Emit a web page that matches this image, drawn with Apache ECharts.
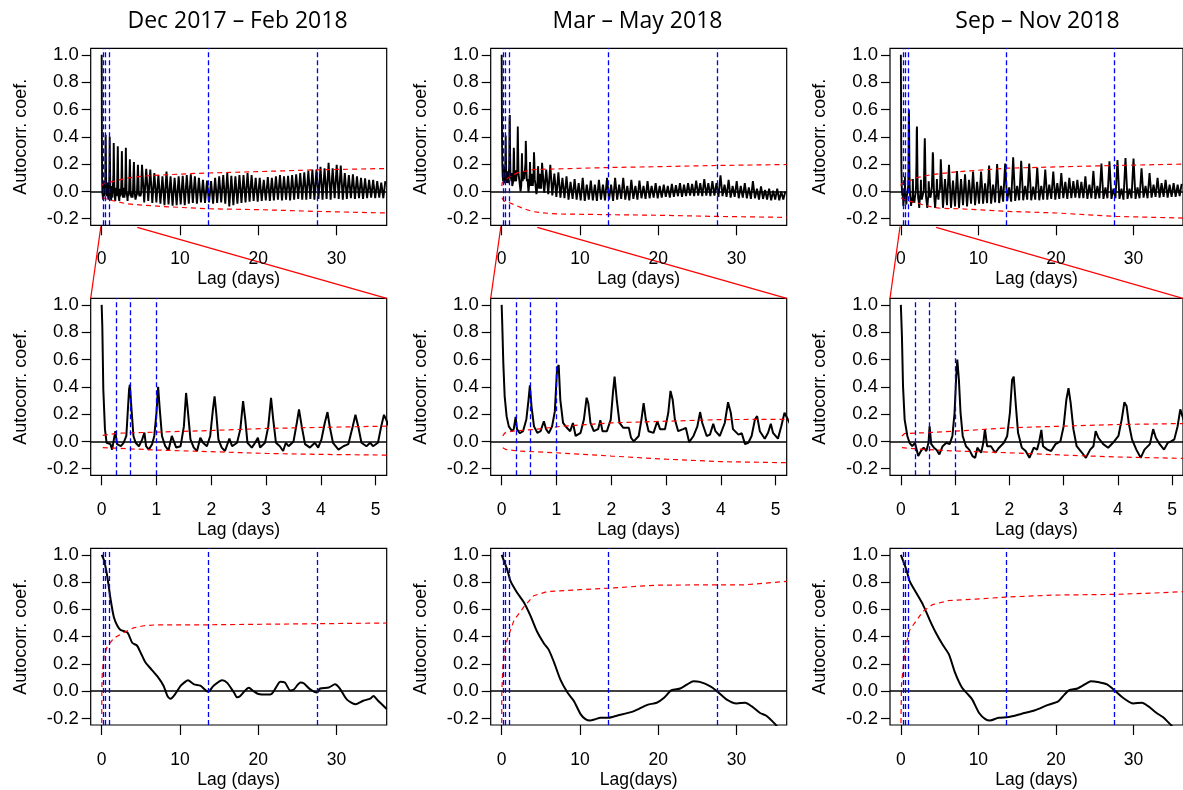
<!DOCTYPE html>
<html lang="en">
<head>
<meta charset="UTF-8">
<title>Autocorrelation</title>
<style>
    html, body { margin: 0; padding: 0; background: #fff; }
    #main { width: 1183px; height: 790px; }
</style>
</head>
<body>
<div id="main"></div>
<script src="https://cdn.jsdelivr.net/npm/echarts@6.0.0/dist/echarts.min.js"></script>
<script>
// panel titles and axis names
const titles = ['Dec 2017 – Feb 2018', 'Mar – May 2018', 'Sep – Nov 2018'];
const bottomNames = ['Lag (days)', 'Lag(days)', 'Lag (days)'];
const yTicks = [-0.2, 0, 0.2, 0.4, 0.6, 0.8, 1.0];
const longTicks = [0, 10, 20, 30];
const shortTicks = [0, 1, 2, 3, 4, 5];
// reference periods (days)
const tideLines = [0.2588, 0.5175, 1, 13.66, 27.55];
const tideLinesShort = [0.2588, 0.5175, 1];
const halfLunarDay = 0.5175;
const firstTailCycle = 11;

// first 5.2 days: [lag, acf]
const fineDec = [[0,1.0],[0.012,0.84],[0.03,0.38],[0.06,0.09],[0.09,-0.01],[0.16,-0.02],[0.19,-0.06],[0.25,0.075],[0.28,-0.02],[0.35,-0.035],[0.4,-0.01],[0.45,0.04],[0.5,0.38],[0.515,0.415],[0.54,0.26],[0.58,0.04],[0.62,-0.01],[0.68,-0.035],[0.74,0.015],[0.78,0.065],[0.81,-0.035],[0.86,-0.06],[0.92,-0.02],[0.96,0.04],[1.0,0.21],[1.03,0.4],[1.06,0.235],[1.1,0.04],[1.16,-0.035],[1.22,-0.065],[1.28,0.04],[1.31,0.027],[1.36,-0.045],[1.44,-0.035],[1.5,0.11],[1.54,0.355],[1.57,0.235],[1.62,0.015],[1.68,-0.045],[1.74,-0.07],[1.8,0.027],[1.85,-0.01],[1.92,-0.035],[1.98,0.04],[2.03,0.235],[2.06,0.33],[2.09,0.21],[2.13,0.015],[2.19,-0.045],[2.25,-0.07],[2.33,0.02],[2.38,-0.035],[2.47,-0.01],[2.53,0.09],[2.58,0.295],[2.62,0.16],[2.66,-0.01],[2.74,-0.045],[2.8,-0.01],[2.85,0.027],[2.89,-0.045],[2.98,-0.01],[3.04,0.11],[3.09,0.32],[3.13,0.16],[3.18,-0.01],[3.25,-0.035],[3.31,-0.07],[3.36,-0.01],[3.41,-0.035],[3.5,0.0],[3.56,0.135],[3.6,0.235],[3.65,0.11],[3.71,-0.02],[3.8,-0.045],[3.89,-0.01],[3.95,-0.045],[4.01,0.015],[4.07,0.135],[4.12,0.215],[4.16,0.11],[4.22,-0.01],[4.32,-0.06],[4.41,-0.035],[4.5,-0.02],[4.58,0.11],[4.63,0.195],[4.68,0.11],[4.74,-0.01],[4.83,-0.035],[4.9,-0.01],[4.95,-0.035],[5.04,-0.01],[5.1,0.11],[5.15,0.195],[5.19,0.16]];
const fineMar = [[0,1.0],[0.01,0.87],[0.03,0.575],[0.055,0.33],[0.09,0.185],[0.13,0.11],[0.19,0.075],[0.22,0.09],[0.255,0.18],[0.28,0.09],[0.33,0.06],[0.39,0.075],[0.45,0.16],[0.49,0.305],[0.515,0.41],[0.545,0.255],[0.59,0.11],[0.65,0.063],[0.71,0.075],[0.77,0.148],[0.81,0.09],[0.86,0.06],[0.92,0.11],[0.97,0.22],[1.01,0.525],[1.04,0.56],[1.07,0.305],[1.12,0.135],[1.19,0.1],[1.25,0.075],[1.3,0.135],[1.35,0.04],[1.44,0.063],[1.5,0.16],[1.55,0.32],[1.58,0.28],[1.62,0.135],[1.68,0.075],[1.76,0.09],[1.8,0.155],[1.84,0.075],[1.92,0.075],[1.99,0.16],[2.03,0.355],[2.06,0.475],[2.1,0.305],[2.15,0.135],[2.22,0.1],[2.32,0.1],[2.36,0.027],[2.41,0.0],[2.5,0.04],[2.55,0.16],[2.59,0.28],[2.63,0.16],[2.68,0.075],[2.77,0.063],[2.84,0.148],[2.89,0.09],[2.98,0.09],[3.04,0.21],[3.08,0.37],[3.12,0.305],[3.16,0.16],[3.22,0.075],[3.31,0.09],[3.36,0.1],[3.42,-0.005],[3.5,0.04],[3.57,0.11],[3.62,0.215],[3.66,0.135],[3.74,0.04],[3.8,0.05],[3.86,0.13],[3.9,0.075],[3.98,0.04],[4.07,0.135],[4.13,0.287],[4.18,0.21],[4.22,0.09],[4.32,0.05],[4.38,0.06],[4.44,-0.02],[4.5,-0.01],[4.56,0.04],[4.62,0.16],[4.66,0.185],[4.71,0.075],[4.8,0.02],[4.86,0.063],[4.91,0.13],[4.95,0.063],[5.04,0.02],[5.1,0.11],[5.16,0.21],[5.19,0.21]];
const fineSep = [[0,1.0],[0.02,0.77],[0.04,0.405],[0.07,0.16],[0.12,0.04],[0.16,-0.01],[0.21,-0.035],[0.26,-0.01],[0.32,-0.107],[0.37,-0.07],[0.42,-0.046],[0.47,-0.07],[0.51,-0.01],[0.53,0.11],[0.56,-0.02],[0.61,-0.046],[0.66,-0.063],[0.71,-0.095],[0.77,-0.035],[0.84,-0.01],[0.9,-0.02],[0.95,0.04],[0.99,0.21],[1.02,0.475],[1.04,0.6],[1.07,0.45],[1.1,0.21],[1.14,0.04],[1.2,-0.035],[1.26,-0.06],[1.32,-0.107],[1.37,-0.12],[1.41,-0.046],[1.48,-0.083],[1.52,-0.01],[1.55,0.09],[1.59,-0.035],[1.66,-0.035],[1.74,-0.083],[1.81,-0.046],[1.9,-0.01],[1.96,0.04],[2.01,0.21],[2.05,0.45],[2.08,0.475],[2.12,0.26],[2.16,0.063],[2.23,-0.046],[2.3,-0.07],[2.37,-0.12],[2.45,-0.046],[2.51,-0.06],[2.55,0.0],[2.59,0.085],[2.62,-0.035],[2.7,-0.06],[2.77,-0.07],[2.85,-0.02],[2.94,0.0],[3.0,0.11],[3.05,0.305],[3.09,0.39],[3.13,0.28],[3.18,0.09],[3.24,-0.035],[3.34,-0.083],[3.41,-0.12],[3.49,-0.06],[3.55,-0.035],[3.59,0.075],[3.64,0.027],[3.73,-0.02],[3.82,-0.046],[3.91,-0.01],[4.01,0.04],[4.07,0.16],[4.12,0.287],[4.16,0.26],[4.2,0.135],[4.26,0.015],[4.34,-0.06],[4.42,-0.12],[4.49,-0.06],[4.59,-0.02],[4.65,0.09],[4.7,0.027],[4.77,-0.02],[4.85,-0.06],[4.92,-0.01],[4.98,0.0],[5.04,0.015],[5.1,0.11],[5.15,0.235]];

// beyond 5.2 days: one peak and one trough per half lunar day (cycles 11..70)
const peaksDec = [0.165,0.16,0.135,0.12,0.11,0.145,0.11,0.10,0.11,0.115, 0.12,0.125,0.11,0.10,0.085,0.08,0.075,0.10,0.11,0.12, 0.135,0.115,0.11,0.12,0.12,0.135,0.12,0.10,0.10,0.085, 0.105,0.10,0.11,0.12,0.11,0.115,0.12,0.125,0.135,0.14, 0.15,0.16,0.16,0.18,0.17,0.21,0.17,0.195,0.19,0.135, 0.12,0.125,0.11,0.10,0.095,0.085,0.085,0.075,0.065,0.075];
const lowsDec = [-0.08,-0.07,-0.085,-0.08,-0.09,-0.1,-0.095,-0.105,-0.1,-0.095, -0.1,-0.09,-0.085,-0.09,-0.08,-0.085,-0.08,-0.09,-0.085,-0.08, -0.09,-0.11,-0.1,-0.09,-0.085,-0.08,-0.075,-0.07,-0.075,-0.07, -0.065,-0.07,-0.065,-0.06,-0.065,-0.06,-0.065,-0.06,-0.055,-0.06, -0.06,-0.055,-0.06,-0.055,-0.06,-0.055,-0.06,-0.05,-0.055,-0.06, -0.055,-0.05,-0.055,-0.05,-0.055,-0.05,-0.045,-0.05,-0.045,-0.05];
const peaksMar = [0.16,0.195,0.13,0.14,0.10,0.11,0.07,0.09,0.06,0.10, 0.05,0.08,0.05,0.085,0.05,0.10,0.05,0.10,0.05,0.10, 0.04,0.085,0.04,0.08,0.04,0.075,0.04,0.06,0.04,0.05, 0.04,0.055,0.045,0.06,0.05,0.06,0.055,0.08,0.06,0.09, 0.06,0.075,0.06,0.117,0.05,0.085,0.04,0.075,0.04,0.06, 0.03,0.075,0.02,0.037,0.01,0.02,0.005,0.02,0.0,0.0];
const lowsMar = [-0.01,-0.02,-0.03,-0.04,-0.045,-0.05,-0.06,-0.055,-0.06,-0.065, -0.07,-0.06,-0.065,-0.07,-0.06,-0.065,-0.06,-0.07,-0.06,-0.055, -0.06,-0.065,-0.055,-0.06,-0.05,-0.055,-0.05,-0.045,-0.05,-0.045, -0.04,-0.045,-0.04,-0.035,-0.04,-0.035,-0.03,-0.035,-0.03,-0.035, -0.03,-0.035,-0.03,-0.04,-0.035,-0.04,-0.045,-0.04,-0.05,-0.045, -0.05,-0.055,-0.05,-0.06,-0.055,-0.06,-0.065,-0.06,-0.065,-0.06];
const peaksSep = [0.09,0.195,0.08,0.15,0.09,0.125,0.085,0.145,0.07,0.145, 0.06,0.19,0.05,0.2,0.04,0.205,0.03,0.25,0.04,0.225, 0.04,0.205,0.035,0.175,0.04,0.16,0.05,0.145,0.06,0.135, 0.07,0.1,0.075,0.085,0.07,0.11,0.05,0.15,0.04,0.205, 0.03,0.22,0.02,0.23,0.02,0.245,0.02,0.24,0.03,0.17, 0.04,0.135,0.05,0.1,0.06,0.085,0.05,0.06,0.05,0.055];
const lowsSep = [-0.12,-0.1,-0.12,-0.11,-0.12,-0.1,-0.11,-0.09,-0.1,-0.09, -0.09,-0.085,-0.09,-0.08,-0.085,-0.075,-0.07,-0.075,-0.07,-0.065, -0.065,-0.06,-0.065,-0.06,-0.065,-0.06,-0.06,-0.055,-0.06,-0.055, -0.05,-0.055,-0.05,-0.045,-0.05,-0.05,-0.055,-0.05,-0.055,-0.05, -0.055,-0.05,-0.055,-0.05,-0.055,-0.06,-0.055,-0.05,-0.055,-0.05, -0.045,-0.05,-0.045,-0.04,-0.045,-0.04,-0.045,-0.04,-0.04,-0.035];

// significance bounds (red dashed), [lag, value]
const upperDec = [[0.02,0.044],[0.3,0.06],[1,0.068],[2,0.08],[3,0.095],[4,0.103],[5.2,0.112],[7.7,0.12],[11.1,0.13],[13.7,0.135],[20.5,0.146],[27.3,0.158],[36.4,0.168]];
const lowerDec = [[0.02,-0.046],[0.3,-0.05],[1,-0.063],[2,-0.075],[3,-0.088],[4,-0.095],[5.2,-0.1],[7.7,-0.11],[11.1,-0.12],[13.7,-0.127],[20.5,-0.134],[27.3,-0.146],[36.4,-0.158]];
const upperMar = [[0.02,0.04],[0.06,0.063],[0.2,0.075],[0.6,0.088],[1.07,0.11],[2,0.136],[3,0.148],[4,0.16],[5.2,0.162],[13.7,0.175],[20.5,0.182],[27.3,0.19],[36.4,0.197]];
const lowerMar = [[0.02,-0.046],[0.07,-0.058],[0.3,-0.07],[1,-0.083],[2,-0.107],[3,-0.13],[4,-0.148],[5.2,-0.156],[7,-0.165],[13.7,-0.17],[20.5,-0.175],[27.3,-0.183],[36.4,-0.19]];
const upperSep = [[0.02,0.04],[0.07,0.058],[0.4,0.063],[1,0.075],[2,0.1],[3,0.112],[4,0.124],[5.2,0.131],[7.5,0.145],[13.7,0.17],[20.2,0.18],[27.8,0.19],[36.4,0.2]];
const lowerSep = [[0.02,-0.046],[0.4,-0.058],[1,-0.07],[2,-0.083],[3,-0.1],[4,-0.114],[5.2,-0.124],[7.5,-0.127],[13.7,-0.146],[20.2,-0.158],[27.8,-0.183],[36.4,-0.195]];

// bottom row: smoothed series and its bound
const smoothDec = [[0,1.0],[0.3,0.96],[0.72,0.84],[1.15,0.67],[1.57,0.54],[2,0.48],[2.4,0.45],[3.3,0.43],[3.9,0.355],[4.5,0.335],[5,0.28],[5.6,0.21],[6.2,0.17],[7.1,0.11],[7.9,0.04],[8.4,-0.035],[8.8,-0.055],[9.4,-0.02],[10.1,0.04],[10.7,0.07],[11,0.08],[11.8,0.05],[12.6,0.04],[13.6,-0.005],[14.3,0.04],[15.4,0.08],[16,0.063],[16.9,-0.01],[17.3,-0.045],[17.7,-0.035],[18.8,0.025],[19.4,0.0],[20,-0.02],[21.1,-0.025],[21.7,-0.02],[22.4,0.04],[22.8,0.07],[23.4,0.063],[24.1,0.005],[24.5,0.01],[25.4,0.063],[25.8,0.058],[26.6,0.015],[27.5,-0.01],[27.9,0.02],[29,0.027],[29.8,0.05],[30.4,0.02],[31.3,-0.06],[32.4,-0.095],[33.4,-0.07],[34.3,-0.055],[34.7,-0.035],[35.3,-0.07],[36.4,-0.13]];
const smoothMar = [[0,1.0],[0.72,0.89],[1.15,0.805],[2,0.72],[2.85,0.65],[3.7,0.55],[4.5,0.44],[5.4,0.35],[6,0.305],[6.7,0.21],[7.5,0.085],[8.4,-0.01],[9.2,-0.07],[10.1,-0.17],[10.7,-0.205],[11.3,-0.215],[12,-0.205],[12.6,-0.195],[13.6,-0.195],[14.7,-0.18],[16.9,-0.146],[18.6,-0.1],[19.8,-0.085],[20.7,-0.05],[21.7,0.007],[22.8,0.02],[23.7,0.05],[24.5,0.073],[25.3,0.068],[26.6,0.037],[27.5,0.0],[28.7,-0.06],[30,-0.09],[31.1,-0.085],[31.9,-0.11],[33,-0.16],[33.8,-0.18],[34.9,-0.24],[35.3,-0.27]];
const smoothSep = [[0,1.0],[0.72,0.89],[1.15,0.805],[2,0.72],[2.85,0.635],[3.7,0.525],[4.5,0.43],[5.4,0.34],[6.2,0.27],[7.0,0.135],[7.9,0.025],[8.6,-0.02],[9.2,-0.06],[10.1,-0.16],[10.9,-0.205],[11.5,-0.215],[12.6,-0.195],[13.9,-0.19],[15.6,-0.165],[17.3,-0.14],[19,-0.1],[20.3,-0.075],[21.1,-0.025],[21.7,0.007],[22.8,0.02],[23.9,0.055],[24.5,0.073],[25.6,0.065],[26.6,0.05],[27.7,0.0],[28.7,-0.05],[30,-0.09],[31.1,-0.085],[31.9,-0.11],[33,-0.16],[33.8,-0.19],[34.7,-0.24],[35.2,-0.27]];
const boundDec = [[0,-0.3],[0.03,0.04],[0.08,0.135],[0.3,0.26],[0.72,0.33],[1.57,0.39],[2.85,0.43],[4.1,0.465],[5.4,0.48],[7.1,0.487],[13.6,0.487],[27.5,0.495],[36.4,0.5]];
const boundMar = [[0,-0.3],[0.02,-0.01],[0.15,0.18],[0.4,0.3],[0.72,0.38],[1.57,0.52],[2.85,0.62],[4.1,0.7],[5.8,0.73],[10,0.745],[13.6,0.755],[19.8,0.778],[27.5,0.78],[30.9,0.78],[36.4,0.805]];
const boundSep = [[0,-0.3],[0.08,0.04],[0.3,0.18],[0.5,0.28],[0.72,0.35],[1.15,0.45],[2.85,0.585],[4.1,0.635],[6.2,0.665],[9.6,0.675],[13.5,0.69],[19.8,0.705],[27.5,0.71],[32.6,0.72],[36.4,0.73]];

// fine part + one peak/trough per half lunar day for the rest
function fullSeries(fine, peaks, lows) {
    let pts = fine.slice();
    for (let i = 0; i < peaks.length; i++) {
        let k = firstTailCycle + i;
        pts.push([(k - 0.5) * halfLunarDay, lows[i]]);
        pts.push([k * halfLunarDay, peaks[i]]);
    }
    return pts;
}

const raw = [fullSeries(fineDec, peaksDec, lowsDec), fullSeries(fineMar, peaksMar, lowsMar), fullSeries(fineSep, peaksSep, lowsSep)];
const uppers = [upperDec, upperMar, upperSep];
const lowers = [lowerDec, lowerMar, lowerSep];
const smooths = [smoothDec, smoothMar, smoothSep];
const bounds = [boundDec, boundMar, boundSep];

const colLeft = [90.7, 490.7, 890];
const rowTop = [48.3, 298.3, 548.3];
const plotW = 296, plotH = 177;
const yMin = -0.248, yMax = 1.048;
const font = 'Liberation Sans, Arial, sans-serif';
const labelMargin = [25, 26, 26];
const nameGapX = [45, 46, 46];

function refLines(xs) {
    let data = [{ yAxis: 0, lineStyle: { color: '#000', type: 'solid', width: 1.6 } }];
    xs.forEach(x => data.push({ xAxis: x, lineStyle: { color: '#0000ff', type: [5, 3], width: 1.3 } }));
    return { silent: true, symbol: ['none', 'none'], label: { show: false }, animation: false, data: data };
}
function redDash(i, data) {
    return { type: 'line', xAxisIndex: i, yAxisIndex: i, data: data, showSymbol: false, silent: true,
        lineStyle: { color: '#ff0000', width: 1.2, type: [5, 4] }, z: 3 };
}

let grids = [], xAxes = [], yAxes = [], series = [];
for (let c = 0; c < 3; c++) {
    for (let r = 0; r < 3; r++) {
        let i = grids.length;
        let short = r === 1;
        grids.push({ left: colLeft[c], top: rowTop[r], width: plotW, height: plotH,
            show: true, borderColor: '#000', borderWidth: 1.2, backgroundColor: 'transparent' });
        xAxes.push({
            type: 'value', gridIndex: i, position: 'bottom',
            min: short ? -0.2 : -1.4, max: short ? 5.2 : 36.4,
            axisLine: { show: false, onZero: false }, splitLine: { show: false },
            axisTick: { show: true, length: 10, customValues: short ? shortTicks : longTicks, lineStyle: { color: '#000', width: 1.2 } },
            axisLabel: { customValues: short ? shortTicks : longTicks, margin: labelMargin[r], color: '#000', fontSize: 17.5, fontFamily: font },
            name: r === 2 ? bottomNames[c] : 'Lag (days)', nameLocation: 'middle', nameGap: nameGapX[r],
            nameTextStyle: { color: '#000', fontSize: 17.5, fontFamily: font }
        });
        yAxes.push({
            type: 'value', gridIndex: i, position: 'left', min: yMin, max: yMax,
            axisLine: { show: false, onZero: false }, splitLine: { show: false },
            axisTick: { show: true, length: 9, customValues: yTicks, lineStyle: { color: '#000', width: 1.2 } },
            axisLabel: { customValues: yTicks, formatter: v => v.toFixed(1), margin: 12, color: '#000', fontSize: 18.5, fontFamily: font },
            name: 'Autocorr. coef.', nameLocation: 'middle', nameGap: 61,
            nameTextStyle: { color: '#000', fontSize: 18, fontFamily: font }
        });
        if (r < 2) {
            series.push({ type: 'line', xAxisIndex: i, yAxisIndex: i, data: raw[c], showSymbol: false, silent: true,
                lineStyle: { color: '#000', width: short ? 2 : 1.9 }, z: 2,
                markLine: refLines(short ? tideLinesShort : tideLines) });
            series.push(redDash(i, uppers[c]));
            series.push(redDash(i, lowers[c]));
        } else {
            series.push({ type: 'line', xAxisIndex: i, yAxisIndex: i, data: smooths[c], showSymbol: false, silent: true,
                smooth: 0.25, lineStyle: { color: '#000', width: 2 }, z: 2,
                markLine: refLines(tideLines) });
            series.push(redDash(i, bounds[c]));
        }
    }
}

let myChart = echarts.init(document.getElementById('main'));
myChart.setOption({
    animation: false,
    backgroundColor: '#fff',
    grid: grids, xAxis: xAxes, yAxis: yAxes, series: series
});

// titles and the red zoom connectors between row 1 and row 2
let graphics = [];
const titleX = [237.5, 637.5, 1037.5];
for (let c = 0; c < 3; c++) {
    graphics.push({ type: 'text', x: titleX[c], y: 21,
        style: { text: titles[c], fill: '#000', font: '23px "Open Sans", sans-serif', align: 'center', verticalAlign: 'middle' } });
    let top = c * 3, mid = c * 3 + 1;
    let a = myChart.convertToPixel({ gridIndex: top }, [-0.1, yMin]);
    let b = myChart.convertToPixel({ gridIndex: mid }, [-0.2, yMax]);
    let d = myChart.convertToPixel({ gridIndex: top }, [4.55, yMin]);
    let e = myChart.convertToPixel({ gridIndex: mid }, [5.2, yMax]);
    graphics.push({ type: 'line', silent: true, shape: { x1: a[0], y1: a[1] + 1, x2: b[0], y2: b[1] }, style: { stroke: '#ff0000', lineWidth: 1.2 } });
    graphics.push({ type: 'line', silent: true, shape: { x1: d[0], y1: d[1] + 2, x2: e[0], y2: e[1] }, style: { stroke: '#ff0000', lineWidth: 1.2 } });
}
myChart.setOption({ graphic: graphics });
</script>
</body>
</html>
